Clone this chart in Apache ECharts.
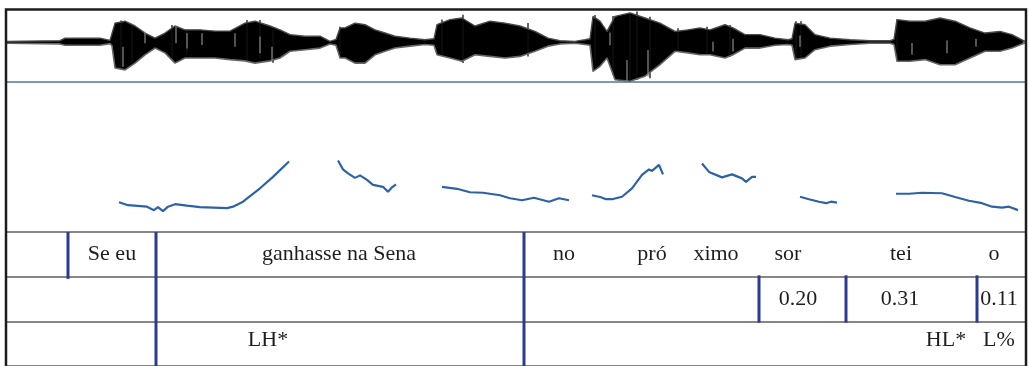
<!DOCTYPE html>
<html>
<head>
<meta charset="utf-8">
<script src="https://cdn.jsdelivr.net/npm/echarts@6/dist/echarts.min.js"></script>
<style>html,body{margin:0;padding:0;background:#fff;}#c{width:1029px;height:366px;}</style>
</head>
<body>
<div id="c"></div>
<script>
// ---- Waveform envelope (time, upper amplitude, lower amplitude) ----
const waveTimes = [7,60,65,100,110,112,115,125,135,145,155,165,175,185,200,215,230,245,255,270,280,290,305,320,330,336,340,345,355,365,375,385,395,410,425,434,437,450,462,475,490,505,520,535,548,560,575,585,590,593,600,607,615,630,645,660,675,688,700,710,725,733,745,760,775,788,792,795,805,815,830,850,870,890,894,897,910,925,940,955,970,985,1000,1012,1022,1025];
const waveTop =   [0.02,0.04,0.12,0.12,0.05,0.10,0.59,0.65,0.50,0.28,0.12,0.28,0.50,0.38,0.38,0.34,0.34,0.59,0.65,0.50,0.38,0.23,0.18,0.18,0.02,0.08,0.44,0.44,0.59,0.54,0.38,0.28,0.18,0.12,0.07,0.10,0.54,0.70,0.75,0.50,0.65,0.59,0.50,0.33,0.12,0.04,0.02,0.07,0.10,0.80,0.65,0.33,0.80,0.91,0.75,0.59,0.33,0.38,0.44,0.38,0.54,0.44,0.23,0.23,0.12,0.07,0.10,0.59,0.54,0.23,0.12,0.07,0.04,0.04,0.08,0.70,0.65,0.65,0.75,0.65,0.44,0.28,0.33,0.23,0.07,0.02];
const waveBottom = [-0.04,-0.06,-0.10,-0.10,-0.05,-0.12,-0.81,-0.87,-0.66,-0.40,-0.19,-0.34,-0.66,-0.50,-0.50,-0.50,-0.55,-0.59,-0.66,-0.59,-0.50,-0.29,-0.24,-0.19,-0.06,-0.10,-0.50,-0.50,-0.66,-0.66,-0.40,-0.29,-0.19,-0.13,-0.08,-0.10,-0.40,-0.50,-0.60,-0.40,-0.45,-0.50,-0.45,-0.29,-0.13,-0.06,-0.04,-0.08,-0.10,-0.92,-0.76,-0.50,-1.18,-1.23,-1.07,-0.71,-0.29,-0.34,-0.40,-0.40,-0.50,-0.40,-0.19,-0.19,-0.10,-0.08,-0.10,-0.55,-0.50,-0.24,-0.13,-0.08,-0.04,-0.04,-0.08,-0.60,-0.60,-0.55,-0.71,-0.71,-0.50,-0.29,-0.29,-0.19,-0.06,-0.03];

// ---- Waveform peaks sticking out of the envelope (time, top, bottom) ----
const peakTimes  = [121,132,172,187,247,260,273,340,442,463,528,595,613,630,637,650,678,707,730,796,801,897];
const peakTop    = [0.67,0.53,0.53,0.38,0.69,0.69,0.40,0.48,0.70,0.85,0.59,0.84,0.81,0.87,0.95,0.79,0.43,0.48,0.53,0.65,0.65,0.70];
const peakBottom = [-0.85,-0.67,-0.56,-0.40,-0.56,-0.50,-0.65,-0.46,-0.40,-0.66,-0.45,-0.56,-1.03,-1.24,-1.19,-1.13,-0.30,-0.35,-0.46,-0.56,-0.50,-0.60];

// ---- Light interior streaks of the waveform (time, top, bottom) ----
const streakTimes  = [123,145,176,187,202,235,260,272,610,627,648,713,733,800,912,947,976];
const streakTop    = [-0.15,0.32,0.48,0.27,0.27,0.27,0.17,-0.15,0.30,-0.56,-0.25,0.01,0.10,0.20,-0.03,0.05,0.10];
const streakBottom = [-0.77,-0.04,-0.04,-0.20,-0.09,-0.15,-0.35,-0.56,-0.10,-1.24,-1.08,-0.30,-0.30,-0.15,-0.40,-0.35,-0.15];

// ---- Pitch contour (Hz), null = unvoiced gap ----
const pitchTimes = [119,128,147,154,158,163,168,175,187,200,227,233,243,260,273,289,313,338,343,348,355,360,367,373,383,388,392,396,420,442,457,470,483,500,510,522,534,549,559,569,580,592,601,606,612,622,632,642,649,652,659,663,680,702,709,722,732,742,746,752,756,780,800,809,819,826,831,837,870,896,909,922,942,956,969,982,992,1002,1009,1018];
const pitchHz = [110,104,101,94,100,92,101,106,103,100,98,101,111,138,161,192,null,194,176,168,159,164,155,145,141,131,140,146,null,141,137,130,129,124,118,114,119,111,118,114,null,124,120,116,116,121,138,165,176,173,185,166,null,188,171,160,166,158,151,161,161,null,121,116,111,108,111,109,null,127,127,129,128,120,113,108,101,99,101,94];

// ---- Tier labels ----
const tier1Texts = ['Se eu','ganhasse na Sena','no','pró','ximo','sor','tei','o'];
const tier1Times = [112,339,564,652,716,788,901,994];
const tier2Texts = ['0.20','0.31','0.11'];
const tier2Times = [798,900,999];
const tier3Texts = ['LH*','HL*','L%'];
const tier3Times = [268,946,999];

// ---- Tier boundaries (time, from tier edge, to tier edge) ----
const boundaryTimes = [68,156,524,759,846,977];
const boundaryFrom  = [0,0,0,0.97,0.97,0.97];
const boundaryTo    = [1.05,3,3,2.03,2.03,2.03];

const FONT = '22px "Liberation Serif", "Times New Roman", serif';

const labelData = [];
tier1Times.forEach((t,i)=>labelData.push({value:[t,0.5], txt:tier1Texts[i]}));
tier2Times.forEach((t,i)=>labelData.push({value:[t,1.5], txt:tier2Texts[i]}));
tier3Times.forEach((t,i)=>labelData.push({value:[t,2.42], txt:tier3Texts[i]}));

function vlineSeries(xi, yi, times, from, to, color, width, z){
  return {type:'custom', xAxisIndex:xi, yAxisIndex:yi, clip:false, z:z, silent:true,
    data: times.map((t,i)=>[t, from[i], to[i]]),
    renderItem:(params, api)=>{
      const p1 = api.coord([api.value(0), api.value(1)]);
      const p2 = api.coord([api.value(0), api.value(2)]);
      return {type:'line', shape:{x1:p1[0], y1:p1[1], x2:p2[0], y2:p2[1]},
              style:{stroke:color, lineWidth:width}};
    }};
}

const chart = echarts.init(document.getElementById('c'), null, {renderer:'canvas'});
const xBase = {type:'value', min:6, max:1026, show:false};
chart.setOption({
  animation:false,
  backgroundColor:'#fff',
  grid:[
    {left:6, top:10, width:1020, height:72},
    {left:6, top:83, width:1020, height:149},
    {left:6, top:232, width:1020, height:138}
  ],
  xAxis:[
    {type:'value', min:6, max:1026, gridIndex:0, show:true,
     axisLabel:{show:false}, axisTick:{show:false}, splitLine:{show:false},
     axisLine:{show:true, onZero:false, lineStyle:{color:'#56789a', width:1.5}}},
    Object.assign({gridIndex:1}, xBase),
    Object.assign({gridIndex:2}, xBase)
  ],
  yAxis:[
    {type:'value', gridIndex:0, min:-1.25, max:1.0, show:false},
    {type:'value', gridIndex:1, min:50, max:350, show:false},
    {type:'value', gridIndex:2, min:0, max:3, interval:1, inverse:true,
     axisLine:{show:false}, axisTick:{show:false}, axisLabel:{show:false},
     splitLine:{show:true, lineStyle:{color:'#5e5e5e', width:1.5}}}
  ],
  series:[
    {type:'line', xAxisIndex:0, yAxisIndex:0, symbol:'none', silent:true,
     data: waveTimes.map((t,i)=>[t, waveTop[i]]),
     lineStyle:{color:'#4a4a4a', width:1.4}, areaStyle:{color:'#000', opacity:1}},
    {type:'line', xAxisIndex:0, yAxisIndex:0, symbol:'none', silent:true,
     data: waveTimes.map((t,i)=>[t, waveBottom[i]]),
     lineStyle:{color:'#666', width:1.6}, areaStyle:{color:'#000', opacity:1}},
    vlineSeries(0, 0, peakTimes, peakTop, peakBottom, '#111', 1.3, 3),
    vlineSeries(0, 0, streakTimes, streakTop, streakBottom, '#8a8a8a', 1.2, 4),
    {type:'line', xAxisIndex:1, yAxisIndex:1, symbol:'none', connectNulls:false,
     data: pitchTimes.map((t,i)=>[t, pitchHz[i]]),
     lineStyle:{color:'#2d62a8', width:2.2}},
    vlineSeries(2, 2, boundaryTimes, boundaryFrom, boundaryTo, '#2b3a96', 3, 5),
    {type:'custom', xAxisIndex:2, yAxisIndex:2, clip:false, z:6,
     data: labelData.map(d=>d.value),
     renderItem:(params, api)=>{
       const p = api.coord([api.value(0), api.value(1)]);
       return {type:'text', x:p[0], y:p[1],
               style:{text:labelData[params.dataIndex].txt, font:FONT, fill:'#1e1e1e',
                      align:'center', verticalAlign:'middle',
                      textAlign:'center', textVerticalAlign:'middle'}};
     }}
  ],
  graphic:[
    {type:'rect', z:100, silent:true,
     shape:{x:6, y:9.5, width:1020, height:370},
     style:{fill:'none', stroke:'#1c1c1c', lineWidth:2.5}}
  ]
});
</script>
</body>
</html>
